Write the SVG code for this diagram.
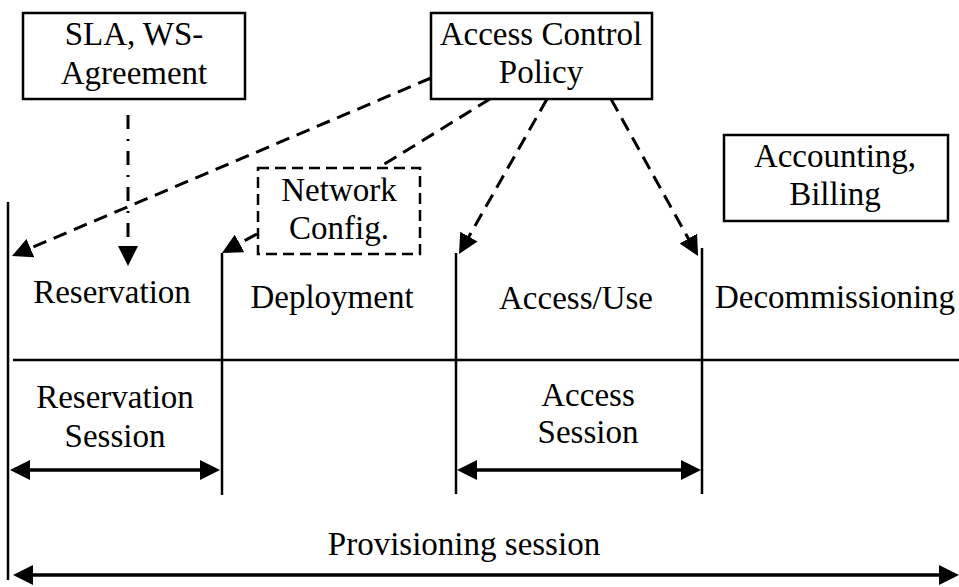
<svg xmlns="http://www.w3.org/2000/svg" width="959" height="587" viewBox="0 0 959 587">
<style>
text{font-size:33px;fill:#000;text-anchor:middle}
.box{fill:#fff;stroke:#000;stroke-width:2.5}
.dbox{fill:#fff;stroke:#000;stroke-width:2.5;stroke-dasharray:11 6}
.dash{fill:none;stroke:#000;stroke-width:3;stroke-dasharray:14 8}
.dashdot{fill:none;stroke:#000;stroke-width:3;stroke-dasharray:14 10 2 10}
.solid{fill:none;stroke:#000;stroke-width:2.5}
.dbl{fill:none;stroke:#000;stroke-width:3.5}
</style>
<defs>
<marker id="ah" viewBox="0 0 20 20" refX="16" refY="10" markerWidth="20" markerHeight="20" markerUnits="userSpaceOnUse" orient="auto-start-reverse">
<path d="M0,0 L20,10 L0,20 z" fill="#000"/>
</marker>
</defs>
<rect width="959" height="587" fill="#fff"/>
<g font-family="'Liberation Serif', Tinos, 'Times New Roman', Times, 'DejaVu Serif', serif">
<g id="timeline">
<line class="solid" x1="8" y1="202" x2="8" y2="580"/>
<line class="solid" x1="222" y1="253" x2="222" y2="495"/>
<line class="solid" x1="456" y1="253" x2="456" y2="494"/>
<line class="solid" x1="702" y1="248" x2="702" y2="494"/>
<line class="solid" x1="13" y1="360" x2="959" y2="360"/>
</g>
<g id="sla">
<rect class="box" x="23" y="13" width="222" height="86"/>
<text x="134" y="45">SLA, WS-</text>
<text x="134" y="84">Agreement</text>
</g>
<g id="acp">
<rect class="box" x="431" y="13" width="221" height="86"/>
<text x="541" y="45">Access Control</text>
<text x="541" y="83">Policy</text>
</g>
<g id="netconfig">
<rect class="dbox" x="258" y="168" width="162" height="86"/>
<text x="339" y="201">Network</text>
<text x="339" y="239">Config.</text>
</g>
<g id="accounting">
<rect class="box" x="724" y="135" width="224" height="86"/>
<text x="835" y="167">Accounting,</text>
<text x="835" y="205">Billing</text>
</g>
<g id="phases">
<text x="112" y="303">Reservation</text>
<text x="332" y="308">Deployment</text>
<text x="576" y="309">Access/Use</text>
<text x="835" y="308">Decommissioning</text>
</g>
<g id="sessions">
<text x="115" y="408">Reservation</text>
<text x="115" y="447">Session</text>
<text x="588" y="406">Access</text>
<text x="588" y="443">Session</text>
<text x="464" y="555">Provisioning session</text>
</g>
<g id="connectors">
<line class="dashdot" x1="128" y1="115" x2="128" y2="262" marker-end="url(#ah)"/>
<line class="dash" x1="431" y1="78" x2="15.7" y2="254.4" marker-end="url(#ah)"/>
<line class="dash" x1="490" y1="99" x2="378" y2="168"/>
<line class="dash" x1="257" y1="234" x2="225.5" y2="251" marker-end="url(#ah)"/>
<line class="dash" x1="547" y1="99" x2="461" y2="250.5" marker-end="url(#ah)"/>
<line class="dash" x1="611" y1="99" x2="696.1" y2="252.5" marker-end="url(#ah)"/>
<line class="dbl" x1="14" y1="470" x2="216" y2="470" marker-start="url(#ah)" marker-end="url(#ah)"/>
<line class="dbl" x1="461" y1="470" x2="697" y2="470" marker-start="url(#ah)" marker-end="url(#ah)"/>
<line class="dbl" x1="17" y1="575" x2="955" y2="575" marker-start="url(#ah)" marker-end="url(#ah)"/>
</g>
</g>
</svg>
